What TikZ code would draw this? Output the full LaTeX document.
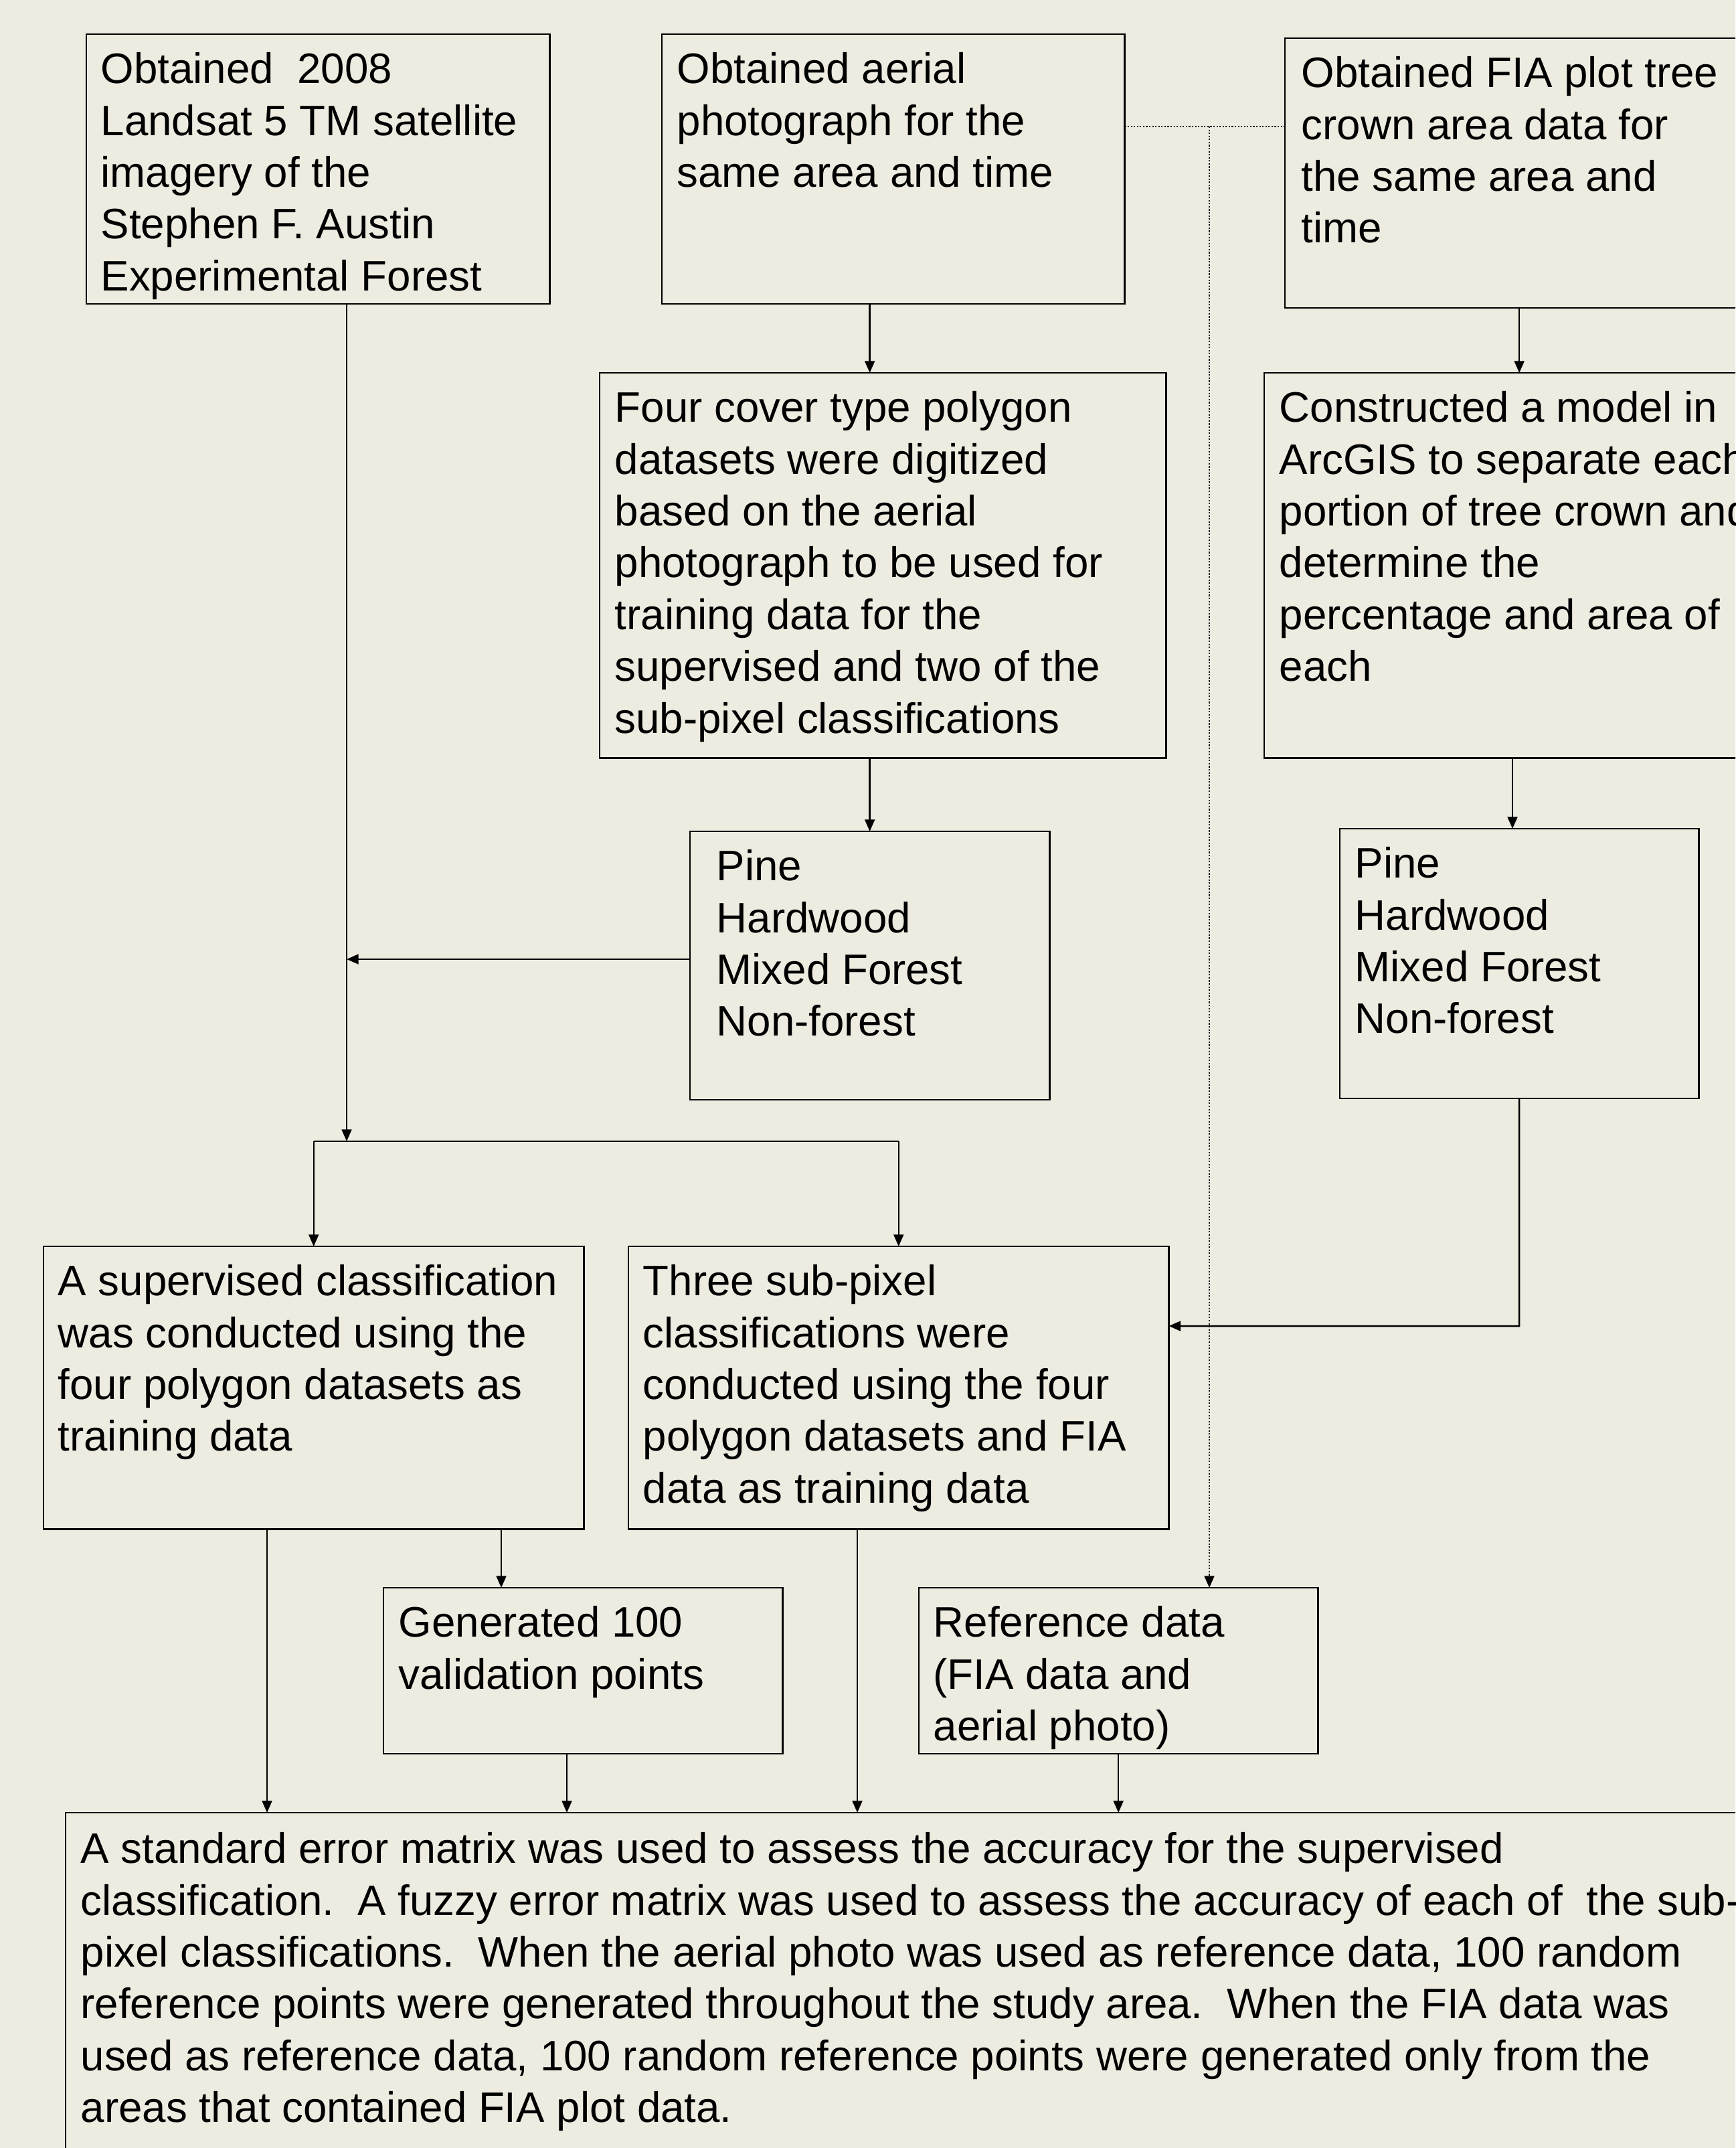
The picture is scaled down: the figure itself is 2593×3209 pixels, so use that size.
\documentclass[tikz,border=0pt]{standalone}
\usepackage{fontspec}
\setmainfont{Liberation Sans}
\usepackage{tikz}
\usetikzlibrary{arrows.meta,positioning}
\frenchspacing

\definecolor{paper}{RGB}{238,236,225}

\tikzset{
  box/.style={draw, line width=0.7pt, inner sep=0pt, outer sep=0pt, anchor=north west},
  txt/.style={inner sep=0pt, anchor=north west, align=left, font=\fontsize{18.1pt}{22pt}\selectfont},
  arr/.style={line width=0.7pt, -{Triangle[length=5pt,width=4.2pt]}},
  dots/.style={line width=0.65pt, dash pattern=on 0.6pt off 0.7pt}
}

\begin{document}
\begin{tikzpicture}[x=0.01cm, y=-0.01cm] % 13 boxes
  \useasboundingbox (0,0) rectangle (2593,3209);
  \clip (0,0) rectangle (2593,3209);
  \fill[paper] (0,0) rectangle (2593,3209);

  % top row
  \node[box, minimum width=6.92cm, minimum height=4.03cm] (landsat) at (129,51) {};
  \node[box, minimum width=6.91cm, minimum height=4.03cm] (aerial) at (989,51) {};
  \node[box, minimum width=7.30cm, minimum height=4.03cm] (fia) at (1920,57) {};
  \node[txt, below right=0.27cm and 0.21cm of landsat.north west] (landsattxt)
    {Obtained~ 2008\\Landsat 5 TM satellite\\imagery of the\\Stephen F. Austin\\Experimental Forest};
  \node[txt, below right=0.27cm and 0.22cm of aerial.north west] (aerialtxt)
    {Obtained aerial\\photograph for the\\same area and time};
  \node[txt, below right=0.27cm and 0.24cm of fia.north west] (fiatxt)
    {Obtained FIA plot tree\\crown area data for\\the same area and\\time};

  % second row
  \node[box, minimum width=8.46cm, minimum height=5.75cm] (cover) at (896,557) {};
  \node[box, minimum width=7.61cm, minimum height=5.75cm] (model) at (1889,557) {};
  \node[txt, below right=0.27cm and 0.22cm of cover.north west] (covertxt)
    {Four cover type polygon\\datasets were digitized\\based on the aerial\\photograph to be used for\\training data for the\\supervised and two of the\\sub-pixel classifications};
  \node[txt, below right=0.27cm and 0.22cm of model.north west] (modeltxt)
    {Constructed a model in\\ArcGIS to separate each\\portion of tree crown and\\determine the\\percentage and area of\\each};

  % class lists
  \node[box, minimum width=5.37cm, minimum height=4.01cm] (pineL) at (1031,1242) {};
  \node[box, minimum width=5.36cm, minimum height=4.03cm] (pineR) at (2002,1238) {};
  \node[txt, below right=0.27cm and 0.39cm of pineL.north west] (pineLtxt)
    {Pine\\Hardwood\\Mixed Forest\\Non-forest};
  \node[txt, below right=0.27cm and 0.22cm of pineR.north west] (pineRtxt)
    {Pine\\Hardwood\\Mixed Forest\\Non-forest};

  % classifications
  \node[box, minimum width=8.07cm, minimum height=4.22cm] (supervised) at (65,1862) {};
  \node[box, minimum width=8.07cm, minimum height=4.22cm] (subpixel) at (939,1862) {};
  \node[txt, below right=0.27cm and 0.21cm of supervised.north west] (supervisedtxt)
    {A supervised classification\\was conducted using the\\four polygon datasets as\\training data};
  \node[txt, below right=0.27cm and 0.21cm of subpixel.north west] (subpixeltxt)
    {Three sub-pixel\\classifications were\\conducted using the four\\polygon datasets and FIA\\data as training data};

  % points and reference
  \node[box, minimum width=5.96cm, minimum height=2.48cm] (generated) at (573,2372) {};
  \node[box, minimum width=5.96cm, minimum height=2.48cm] (reference) at (1373,2372) {};
  \node[txt, below right=0.27cm and 0.22cm of generated.north west] (generatedtxt)
    {Generated 100\\validation points};
  \node[txt, below right=0.27cm and 0.21cm of reference.north west] (referencetxt)
    {Reference data\\(FIA data and\\aerial photo)};

  % accuracy assessment
  \node[box, minimum width=25.52cm, minimum height=5.52cm] (matrix) at (98,2708) {};
  \node[txt, below right=0.29cm and 0.22cm of matrix.north west] (matrixtxt)
    {A standard error matrix was used to assess the accuracy for the supervised\\classification.~ A fuzzy error matrix was used to assess the accuracy of each of~ the sub-\\pixel classifications.~ When the aerial photo was used as reference data, 100 random\\reference points were generated throughout the study area.~ When the FIA data was\\used as reference data, 100 random reference points were generated only from the\\areas that contained FIA plot data.};

  % joints
  \coordinate (split) at (518,1705);
  \coordinate (dotjoin) at (1807,189);
  \coordinate (bend) at (2270,1981);
  \coordinate (supA) at (399,2284);
  \coordinate (supB) at (749,2284);
  \coordinate (genA) at (847,2620);
  \coordinate (subA) at (1281,2284);

  % connectors
  \draw[arr] (landsat.south -| split) -- (split);
  \draw[arr] (split -| supervised) -- (supervised.north);
  \draw[line width=0.7pt] (split -| supervised) -- (split -| subpixel);
  \draw[arr] (split -| subpixel) -- (subpixel.north);
  \draw[arr] (aerial.south -| pineL) -- (cover.north -| pineL);
  \draw[arr] (cover.south -| pineL) -- (pineL.north);
  \draw[arr] (pineL.west |- 0,1433) -- (split |- 0,1433);
  \draw[arr] (fia.south -| pineR) -- (model.north -| pineR);
  \draw[arr] (model.south -| 2260,0) -- (pineR.north -| 2260,0);
  \draw[arr] (pineR.south) -- (bend) -- (bend -| subpixel.east);
  \draw[dots] (aerial.east |- dotjoin) -- (fia.west |- dotjoin);
  \draw[dots, -{Triangle[length=5pt,width=4.2pt]}] (dotjoin) -- (reference.north -| dotjoin);
  \draw[arr] (supA) -- (supA |- matrix.north);
  \draw[arr] (supB) -- (supB |- generated.north);
  \draw[arr] (genA) -- (genA |- matrix.north);
  \draw[arr] (subA) -- (subA |- matrix.north);
  \draw[arr] (reference) -- (reference |- matrix.north);
\end{tikzpicture}
\end{document}
